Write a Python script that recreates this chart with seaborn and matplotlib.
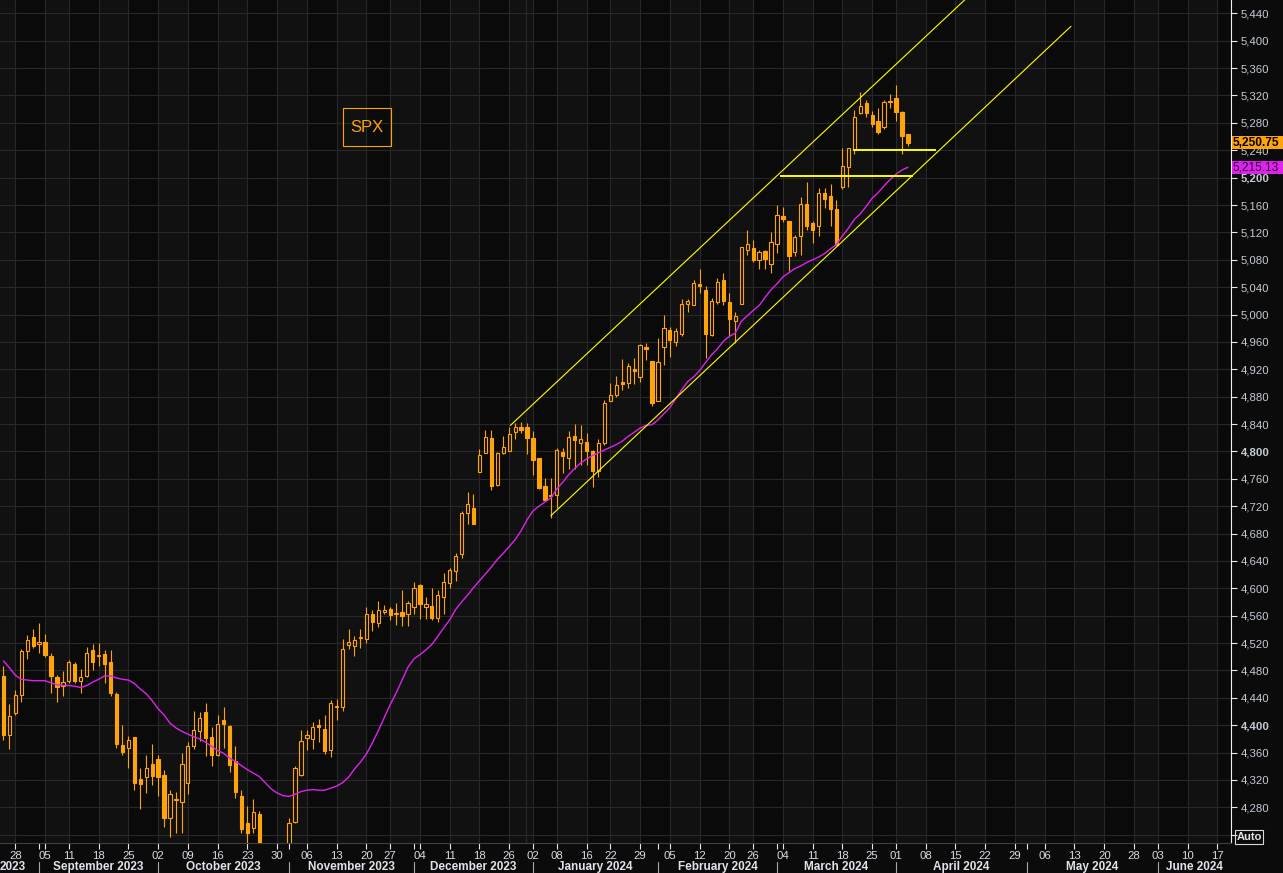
import numpy as np
import pandas as pd
import matplotlib
matplotlib.use("Agg")
import matplotlib.pyplot as plt
import matplotlib.transforms as mtransforms
from matplotlib.patches import Rectangle
import seaborn as sns

# ---- data ----
# trading calendar, index 0 = 2023-08-28
cal_start = "2023-08-01"
cal_end = "2024-07-31"
zero_day = "2023-08-28"
first_candle = "2023-08-24"
holidays = ["2023-09-04", "2023-11-23", "2023-12-25", "2024-01-01", "2024-01-15",
            "2024-02-19", "2024-03-29", "2024-05-27", "2024-06-19", "2024-07-04"]

opens = [4472, 4385, 4418, 4444, 4509, 4529, 4518, 4522, 4501, 4470,
         4458, 4464, 4489, 4465, 4472, 4510, 4501, 4504, 4492, 4446,
         4371, 4366, 4383, 4321, 4324, 4343, 4351, 4327, 4264, 4291,
         4288, 4316, 4369, 4392, 4419, 4383, 4356, 4408, 4399, 4348,
         4296, 4257, 4250, 4270, 4200, 4170, 4158, 4196, 4212, 4259,
         4327, 4381, 4380, 4400, 4394, 4364, 4426, 4427, 4517, 4515,
         4528, 4526, 4562, 4549, 4565, 4570, 4563, 4565, 4563, 4572,
         4605, 4573, 4574, 4557, 4587, 4608, 4626, 4650, 4710, 4717,
         4770, 4797, 4819, 4751, 4797, 4801, 4829, 4835, 4835, 4819,
         4791, 4750, 4735, 4736, 4799, 4791, 4823, 4812, 4814, 4801,
         4772, 4812, 4874, 4882, 4902, 4900, 4920, 4909, 4953, 4932,
         4874, 4953, 4977, 4960, 4972, 5015, 5014, 5044, 5036, 4970,
         5019, 5050, 5019, 4991, 5016, 5094, 5097, 5080, 5093, 5074,
         5103, 5144, 5136, 5092, 5115, 5161, 5134, 5130, 5177, 5173,
         5154, 5187, 5216, 5240, 5295, 5309, 5291, 5283, 5274, 5310,
         5316, 5296, 5264]
highs = [4486, 4431, 4451, 4511, 4532, 4541, 4549, 4533, 4505, 4473,
         4479, 4495, 4492, 4482, 4514, 4518, 4520, 4510, 4510, 4448,
         4400, 4384, 4383, 4337, 4356, 4372, 4356, 4334, 4305, 4303,
         4359, 4376, 4421, 4420, 4432, 4398, 4415, 4426, 4400, 4369,
         4305, 4282, 4292, 4275, 4218, 4190, 4205, 4222, 4265, 4341,
         4393, 4393, 4404, 4409, 4415, 4437, 4438, 4526, 4541, 4531,
         4540, 4573, 4568, 4581, 4576, 4573, 4579, 4598, 4581, 4609,
         4606, 4587, 4600, 4598, 4623, 4630, 4651, 4713, 4740, 4738,
         4804, 4832, 4832, 4799, 4823, 4836, 4842, 4843, 4842, 4830,
         4791, 4761, 4761, 4805, 4805, 4830, 4840, 4839, 4827, 4802,
         4818, 4875, 4900, 4910, 4935, 4929, 4936, 4957, 4958, 4932,
         4966, 4999, 4982, 4981, 5022, 5022, 5050, 5067, 5042, 5024,
         5053, 5060, 5031, 5003, 5099, 5124, 5109, 5094, 5094, 5120,
         5160, 5157, 5136, 5116, 5172, 5194, 5136, 5185, 5185, 5190,
         5168, 5243, 5244, 5299, 5325, 5314, 5297, 5301, 5314, 5322,
         5335, 5297, 5264]
lows = [4378, 4365, 4415, 4434, 4497, 4513, 4506, 4500, 4447, 4434,
        4443, 4461, 4461, 4447, 4470, 4480, 4486, 4462, 4443, 4367,
        4356, 4338, 4305, 4277, 4301, 4312, 4296, 4252, 4236, 4243,
        4243, 4299, 4365, 4377, 4355, 4340, 4355, 4366, 4331, 4293,
        4242, 4227, 4243, 4195, 4165, 4148, 4150, 4180, 4205, 4257,
        4326, 4364, 4365, 4376, 4358, 4354, 4408, 4421, 4511, 4501,
        4513, 4520, 4537, 4544, 4563, 4553, 4547, 4545, 4545, 4562,
        4555, 4555, 4553, 4551, 4562, 4600, 4611, 4645, 4694, 4694,
        4770, 4797, 4744, 4749, 4796, 4801, 4818, 4827, 4796, 4766,
        4745, 4728, 4702, 4717, 4768, 4775, 4775, 4780, 4780, 4748,
        4763, 4809, 4873, 4880, 4890, 4892, 4899, 4902, 4934, 4866,
        4873, 4926, 4938, 4954, 4968, 5004, 5014, 5031, 4937, 4968,
        5016, 5014, 4969, 4959, 5015, 5087, 5077, 5067, 5067, 5061,
        5090, 5135, 5064, 5086, 5087, 5123, 5105, 5114, 5155, 5130,
        5100, 5183, 5187, 5234, 5293, 5288, 5274, 5264, 5271, 5302,
        5283, 5235, 5246]
closes = [4386, 4414, 4444, 4508, 4525, 4516, 4522, 4502, 4472, 4456,
          4463, 4492, 4465, 4470, 4506, 4493, 4502, 4490, 4447, 4372,
          4361, 4379, 4315, 4314, 4338, 4326, 4325, 4265, 4299, 4292,
          4343, 4370, 4393, 4410, 4381, 4356, 4402, 4402, 4342, 4303,
          4248, 4242, 4273, 4205, 4172, 4155, 4198, 4215, 4257, 4337,
          4377, 4386, 4397, 4398, 4363, 4432, 4427, 4512, 4521, 4524,
          4529, 4563, 4551, 4568, 4569, 4561, 4564, 4560, 4578, 4601,
          4577, 4577, 4557, 4590, 4609, 4627, 4647, 4710, 4723, 4694,
          4795, 4821, 4749, 4797, 4807, 4826, 4835, 4832, 4820, 4788,
          4747, 4729, 4737, 4802, 4793, 4821, 4816, 4818, 4800, 4772,
          4812, 4871, 4882, 4897, 4899, 4925, 4917, 4955, 4949, 4871,
          4930, 4981, 4963, 4976, 5016, 5020, 5046, 5042, 4972, 5020,
          5048, 5020, 4993, 4998, 5099, 5103, 5080, 5092, 5081, 5106,
          5146, 5139, 5086, 5113, 5162, 5130, 5124, 5178, 5169, 5154,
          5102, 5217, 5243, 5288, 5305, 5294, 5279, 5266, 5310, 5311,
          5296, 5261, 5250.75]
moving_avg = [4494, 4484, 4473, 4467, 4466, 4465, 4465, 4465, 4462, 4459,
              4458, 4458, 4457, 4455, 4458, 4463, 4467, 4472, 4472, 4469,
              4467, 4466, 4461, 4453, 4446, 4436, 4424, 4415, 4403, 4396,
              4391, 4387, 4383, 4380, 4375, 4369, 4363, 4359, 4352, 4347,
              4341, 4335, 4330, 4325, 4316, 4307, 4301, 4297, 4296, 4299,
              4303, 4305, 4306, 4305, 4305, 4308, 4311, 4316, 4324, 4336,
              4346, 4358, 4374, 4392, 4411, 4430, 4447, 4466, 4485, 4497,
              4503, 4510, 4518, 4530, 4542, 4554, 4569, 4580, 4590, 4601,
              4611, 4621, 4631, 4642, 4651, 4661, 4671, 4684, 4700, 4713,
              4720, 4726, 4732, 4745, 4755, 4766, 4775, 4783, 4789, 4794,
              4798, 4802, 4806, 4810, 4815, 4822, 4828, 4834, 4838, 4839,
              4846, 4855, 4864, 4877, 4890, 4902, 4909, 4918, 4930, 4941,
              4950, 4961, 4968, 4973, 4990, 4998, 5006, 5013, 5025, 5036,
              5045, 5055, 5061, 5067, 5071, 5076, 5080, 5084, 5089, 5096,
              5102, 5115, 5126, 5139, 5147, 5158, 5170, 5178, 5188, 5197,
              5205, 5211, 5215.13]

# drawn trend lines (trading-day index, price)
upper_channel_x = [83.2, 165.0]
upper_channel_y = [4838, 5504]
lower_channel_x = [90.0, 177.4]
lower_channel_y = [4706, 5421]
level_hi = 5240
level_hi_x = [140.7, 154.7]
level_lo = 5202
level_lo_x = [128.5, 150.9]

ticker = "SPX"
y_ticks = list(range(4240, 5441, 40))

# ---- colours ----
ORANGE = "#ffa30a"
MAGENTA = "#dd22ee"
YELLOW = "#ffff00"
BG_DARK = "#0a0a0a"
BG_LIGHT = "#111111"
GRID = "#282828"

# ---- calendar ----
days = pd.bdate_range(cal_start, cal_end)
days = days[~days.isin(pd.to_datetime(holidays))]
pos = np.arange(len(days)) - days.get_loc(pd.Timestamp(zero_day))
cal = pd.DataFrame({"day": days, "pos": pos})

x_min, x_max = -2.57, 204.3
y_min, y_max = 4227.9, 5459.5

cal["week"] = cal["day"].dt.strftime("%G-%V")
cal["month"] = cal["day"].dt.strftime("%Y-%m")
weekly = cal.groupby("week").first()
weekly = weekly[(weekly["pos"] >= x_min) & (weekly["pos"] <= x_max)].sort_values("pos")
monthly = cal.groupby("month").first().sort_values("pos")

start_idx = cal.index[cal["day"] == pd.Timestamp(first_candle)][0]
cx = cal["pos"].values[start_idx:start_idx + len(opens)]

o = np.array(opens, float)
h = np.array(highs, float)
l = np.array(lows, float)
c = np.array(closes, float)
ma = np.array(moving_avg, float)

# ---- figure ----
sns.set_theme(style="dark")
plt.rcParams["font.family"] = ["Liberation Sans", "DejaVu Sans"]

fig = plt.figure(figsize=(12.83, 8.73), dpi=100, facecolor="#0b0b0b")
ax = fig.add_axes([0, 30 / 873, 1231 / 1283, 843 / 873])
ax.set_facecolor(BG_DARK)

# alternating weekly shading
edges = [x_min] + list(weekly["pos"]) + [x_max]
for i in range(len(edges) - 1):
    if i % 2 == 0:
        ax.axvspan(edges[i], edges[i + 1], color=BG_LIGHT, lw=0, zorder=0)
ax.axvline(85.9, color=GRID, lw=0.8, zorder=0.6)

# candles
up = c >= o
body_lo = np.minimum(o, c)
body_hi = np.maximum(o, c)
body_h = np.maximum(body_hi - body_lo, 1.5)
ax.vlines(cx, body_hi, h, color=ORANGE, lw=0.8, zorder=3)
ax.vlines(cx, l, body_lo, color=ORANGE, lw=0.8, zorder=3)
ax.bar(cx[up], body_h[up], bottom=body_lo[up], width=0.55, facecolor="none",
       edgecolor=ORANGE, lw=0.8, zorder=3)
ax.bar(cx[~up], body_h[~up], bottom=body_lo[~up], width=0.55, color=ORANGE,
       edgecolor=ORANGE, lw=0.8, zorder=3)

# moving average
sns.lineplot(x=cx, y=ma, ax=ax, color=MAGENTA, lw=1.0, zorder=4)

# trend channel and levels
sns.lineplot(x=upper_channel_x, y=upper_channel_y, ax=ax, color=YELLOW, lw=0.8, zorder=5)
sns.lineplot(x=lower_channel_x, y=lower_channel_y, ax=ax, color=YELLOW, lw=0.8, zorder=5)
ax.hlines(level_hi, level_hi_x[0], level_hi_x[1], color=YELLOW, lw=1.4, zorder=5)
ax.hlines(level_lo, level_lo_x[0], level_lo_x[1], color=YELLOW, lw=1.4, zorder=5)

ax.set_xlim(x_min, x_max)
ax.set_ylim(y_min, y_max)
ax.set_xlabel("")
ax.set_ylabel("")

# y axis on the right
ax.yaxis.tick_right()
ax.set_yticks(y_ticks)
ax.set_yticklabels(["" if v == 4240 else f"{v:,}" for v in y_ticks])
for lab, v in zip(ax.get_yticklabels(), y_ticks):
    if v % 400 == 0:
        lab.set_fontweight("bold")
ax.tick_params(axis="y", which="major", direction="out", length=4, width=0.8,
               colors="#e8e8e8", labelcolor="#c4cbd6", labelsize=8.2, pad=3,
               right=True, left=False)

# x axis: weekly ticks + month starts
ax.set_xticks(weekly["pos"].values)
ax.set_xticklabels(weekly["day"].dt.strftime("%d").values)
ax.set_xticks(monthly["pos"][(monthly["pos"] >= x_min) & (monthly["pos"] <= x_max)].values,
              minor=True)
ax.tick_params(axis="x", which="both", direction="out", length=4, width=0.8,
               colors="#e8e8e8", labelcolor="#d8dce4", labelsize=8.2, pad=2, bottom=True)

ax.grid(True, which="major", color=GRID, lw=0.8)
ax.grid(False, which="minor")
ax.set_axisbelow(True)

for s in ["top", "left"]:
    ax.spines[s].set_visible(False)
ax.spines["right"].set_color("#f0f0f0")
ax.spines["right"].set_linewidth(0.8)
ax.spines["bottom"].set_color("#404040")
ax.spines["bottom"].set_linewidth(0.8)

# month row
trans = mtransforms.blended_transform_factory(ax.transData, ax.transAxes)
mpos = list(monthly["pos"].values)
mnames = list(monthly["day"].dt.strftime("%B %Y").values)
for i in range(len(mpos) - 1):
    start, end = mpos[i], mpos[i + 1]
    if end < x_min or start > x_max:
        continue
    if start >= x_min:
        ax.plot([start, start], [-0.0225, -0.036], transform=trans, color="#a8a8a8",
                lw=0.8, clip_on=False)
    if start < x_min:
        # month mostly off the left edge: only its year is visible
        ax.text(end - 2.2, -0.0285, mnames[i].split()[-1], transform=trans, ha="right",
                va="center", fontsize=8.5, fontweight="bold", color="#dfe3ea", clip_on=False)
    else:
        mid = (max(start, x_min) + min(end, x_max)) / 2
        ax.text(mid, -0.0285, mnames[i], transform=trans, ha="center", va="center",
                fontsize=8.5, fontweight="bold", color="#dfe3ea", clip_on=False)

# last price / moving average tags
bt = mtransforms.blended_transform_factory(ax.transAxes, ax.transData)
for val, fc, tc, fw in [(c[-1], ORANGE, "#000000", "bold"), (ma[-1], MAGENTA, "#2a0030", "normal")]:
    ax.add_patch(Rectangle((1.0008, val - 9.5), 0.0415, 19, transform=bt, facecolor=fc,
                           edgecolor="none", clip_on=False, zorder=6))
    ax.text(1.0016, val, f"{val:,.2f}", transform=bt, ha="left", va="center", fontsize=8.6,
            fontweight=fw, color=tc, clip_on=False, zorder=7)

# ticker box
fig.patches.append(Rectangle((343 / 1283, 1 - 146 / 873), 48 / 1283, 38 / 873,
                             transform=fig.transFigure, fill=False, edgecolor=ORANGE, lw=0.8))
fig.text(367 / 1283, 1 - 127 / 873, ticker, color=ORANGE, fontsize=12, ha="center", va="center")

# Auto button
fig.text(1249 / 1283, 1 - 837 / 873, "Auto", ha="center", va="center", fontsize=8,
         fontweight="bold", color="#e0e4ea",
         bbox=dict(boxstyle="square,pad=0.15", fc="none", ec="#d8d8d8", lw=0.8))

fig.savefig("out.png", dpi=100, facecolor=fig.get_facecolor())
